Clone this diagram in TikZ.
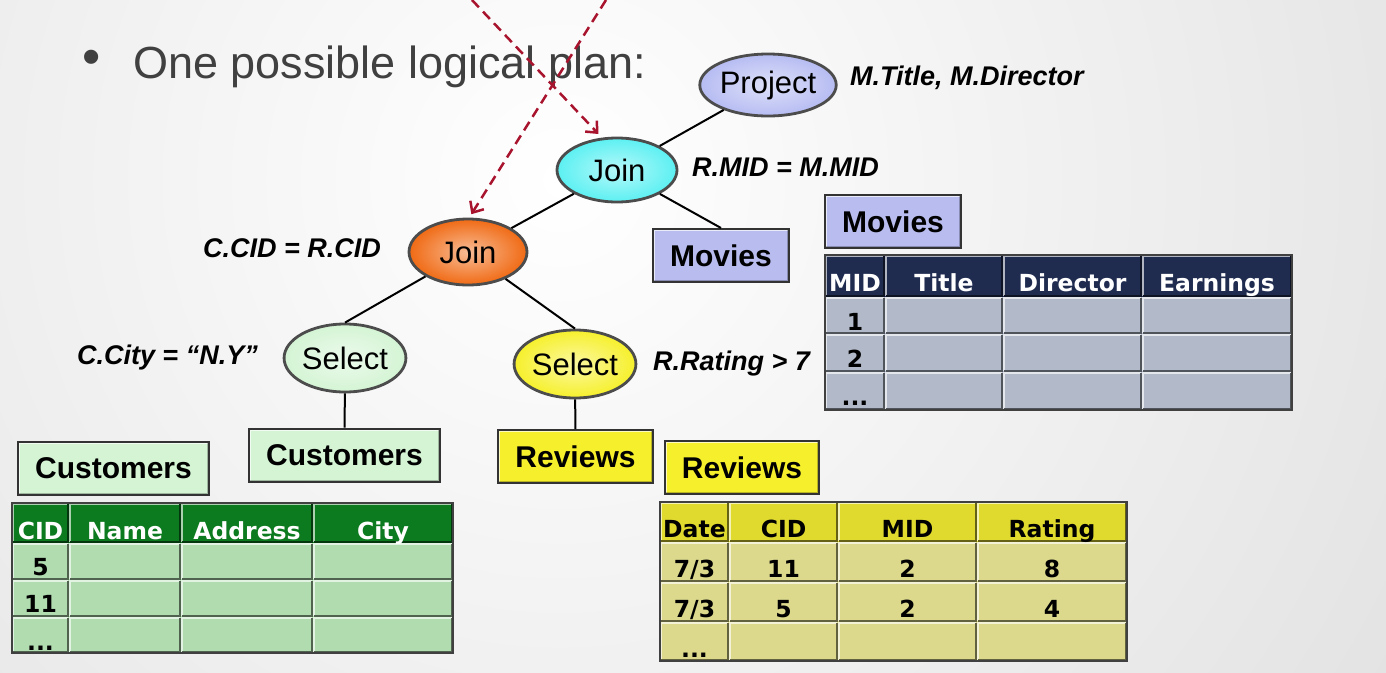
\documentclass[tikz,border=0pt]{standalone}
\usepackage{fontspec}
\setmainfont{Liberation Sans}
\newfontfamily\tabfont{DejaVu Sans}
\usetikzlibrary{shapes.geometric,arrows.meta}

\definecolor{slidegray}{HTML}{404040}
\definecolor{planred}{HTML}{A8142E}
\definecolor{projcol}{HTML}{B6BCF2}
\definecolor{joincyan}{HTML}{5CF0F2}
\definecolor{joinorange}{HTML}{F06A14}
\definecolor{custgreen}{HTML}{D4F4D4}
\definecolor{revyellow}{HTML}{F6F02C}
\definecolor{movblue}{HTML}{B8BCEE}
\definecolor{custhead}{HTML}{0C7A1E}
\definecolor{custcell}{HTML}{B0DCB0}
\definecolor{movhead}{HTML}{1F2C50}
\definecolor{movcell}{HTML}{B2BACA}
\definecolor{revhead}{HTML}{E0DA2E}
\definecolor{revcell}{HTML}{DCD98C}

\def\tdots{...}
\def\bevelcell(#1,#2)(#3,#4)[#5]{%
  \fill[#5] (#1,#2) rectangle (#3,#4);
  \draw[#5!35!white,line width=1.6pt] (#1+1,#4-1) -- (#1+1,#2+1) -- (#3-1,#2+1);
  \draw[#5!45!black,line width=1.6pt] (#1+1,#4-1) -- (#3-1,#4-1) -- (#3-1,#2+1);}

\tikzset{
  opnode/.style={ellipse, draw=black!70, line width=2.8pt, inner color=#1!45!white, outer color=#1,
    minimum width=120pt, minimum height=66pt, inner sep=0pt, font=\fontsize{31}{36}\selectfont},
  relbox/.style={rectangle, draw=black!80, line width=2pt, fill=#1, inner xsep=17pt, inner ysep=0pt,
    minimum height=53pt, font=\fontsize{30}{36}\selectfont\bfseries,
    path picture={
      \draw[white, line width=4pt, opacity=.7] (path picture bounding box.south west)
        -- (path picture bounding box.north west) -- (path picture bounding box.north east);
      \draw[black, line width=4pt, opacity=.25] (path picture bounding box.south west)
        -- (path picture bounding box.south east) -- (path picture bounding box.north east);}},
  predlabel/.style={inner sep=0pt, font=\fontsize{27}{32}\selectfont\bfseries\itshape},
  treeedge/.style={draw=black, line width=2pt},
  planarrow/.style={draw=planred, line width=2.5pt, dash pattern=on 10pt off 6pt,
    -{Straight Barb[length=9pt,width=16pt]}},
  celltext/.style={inner sep=0pt, anchor=base, font=\tabfont\fontsize{23.5}{28}\selectfont\bfseries},
}

\begin{document}
\begin{tikzpicture}[x=1pt,y=-1pt]
  %%%%% background %%%%%
  \useasboundingbox (0,0) rectangle (1386,672);
  \begin{scope}
    \clip (0,0) rectangle (1386,672);
    \shade[inner color=white, outer color=black!17] (560,180) circle (1500);
  \end{scope}

  \node[text=slidegray, inner sep=0pt, font=\fontsize{52}{60}\selectfont] (bullet) at (92,62) {•};
  \node[text=slidegray, inner sep=0pt, anchor=base west, font=\fontsize{45}{54}\selectfont] (title) at (133,78) {One possible logical plan:};

  %%%%% Customers table %%%%%
  \foreach \xa/\xb in {12/69,69/181,181/313,313/453}{
    \bevelcell(\xa,503)(\xb,543)[custhead]
    \foreach \ya/\yb in {543/580,580/617,617/653}
      {\bevelcell(\xa,\ya)(\xb,\yb)[custcell]}
  }
  \draw[black!75, line width=1.5pt] (12,503) rectangle (453,653);
  \foreach \cx/\lab [count=\i] in {40.5/CID,125/Name,247/Address,383/City}
    \node[celltext, text=white] (custh\i) at (\cx,539) {\lab};
  \foreach \cy/\lab [count=\i] in {575/5,612/11,650/\tdots}
    \node[celltext] (custv\i) at (40.5,\cy) {\lab};

  %%%%% Movies table %%%%%
  \foreach \xa/\xb in {825/885,885/1003,1003/1142,1142/1292}{
    \bevelcell(\xa,255)(\xb,297)[movhead]
    \foreach \ya/\yb in {297/334,334/372,372/410}
      {\bevelcell(\xa,\ya)(\xb,\yb)[movcell]}
  }
  \draw[black!75, line width=1.5pt] (825,255) rectangle (1292,410);
  \foreach \cx/\lab [count=\i] in {855/MID,944/Title,1072.5/Director,1217/Earnings}
    \node[celltext, text=white] (movh\i) at (\cx,291) {\lab};
  \foreach \cy/\lab [count=\i] in {330/1,367/2,405/\tdots}
    \node[celltext] (movv\i) at (855,\cy) {\lab};

  %%%%% Reviews table %%%%%
  \foreach \xa/\xb in {660/729,729/838,838/977,977/1127}{
    \bevelcell(\xa,502)(\xb,542)[revhead]
    \foreach \ya/\yb in {542/582,582/622,622/661}
      {\bevelcell(\xa,\ya)(\xb,\yb)[revcell]}
  }
  \draw[black!75, line width=1.5pt] (660,502) rectangle (1127,661);
  \foreach \cx/\lab/\va/\vb [count=\i] in {694.5/Date/{7/3}/{7/3},783.5/CID/11/5,907.5/MID/2/2,1052/Rating/8/4}{
    \node[celltext] (revh\i) at (\cx,537) {\lab};
    \node[celltext] (reva\i) at (\cx,577) {\va};
    \node[celltext] (revb\i) at (\cx,617) {\vb};
  }
  \node[celltext] (revdots) at (694.5,657) {\tdots};

  %%%%% relation boxes %%%%%
  \node[relbox=movblue] (movl) at (893,221.5) {Movies};
  \node[relbox=custgreen] (custl) at (113.5,468) {Customers};
  \node[relbox=revyellow] (revl) at (742,467.5) {Reviews};

  \node[relbox=movblue] (movt) at (721,255.5) {Movies};
  \node[relbox=custgreen] (custt) at (344.5,455) {Customers};
  \node[relbox=revyellow] (revt) at (575.5,456.5) {Reviews};

  %%%%% plan tree %%%%%
  \node[opnode=projcol, minimum width=119pt, minimum height=62pt] (proj) at (768,85) {Project};
  \node[opnode=joincyan, minimum height=64pt] (jtop) at (617,170) {Join};
  \node[opnode=joinorange, minimum width=118pt] (jorg) at (468,252) {Join};
  \node[opnode=custgreen, minimum height=68pt] (selc) at (345,358) {Select};
  \node[opnode=revyellow, minimum height=68pt] (selr) at (575,364) {Select};

  \draw[treeedge] (proj) -- (jtop);
  \draw[treeedge] (jtop) -- (jorg);
  \draw[treeedge] (jtop) -- (movt.north);
  \draw[treeedge] (jorg) -- (selc.north);
  \draw[treeedge] (jorg) -- (selr.north);
  \draw[treeedge] (selc) -- (custt);
  \draw[treeedge] (selr) -- (revt);

  \node[predlabel, anchor=west] (projlab) at (850,78) {M.Title, M.Director};
  \node[predlabel, anchor=west] (jtoplab) at (692,167) {R.MID = M.MID};
  \node[predlabel, anchor=east] (jorglab) at (381,248) {C.CID = R.CID};
  \node[predlabel, anchor=east] (selclab) at (258,358) {C.City = “N.Y”};
  \node[predlabel, anchor=west] (selrlab) at (653,364) {R.Rating > 7};

  %%%%% crossed arrows %%%%%
  \coordinate (xa) at (472,0);
  \coordinate (xb) at (606,0);
  \draw[planarrow, shorten >=5pt] (xa) -- (jtop.115);
  \draw[planarrow, shorten >=4pt] (xb) -- (jorg.88);
\end{tikzpicture}
\end{document}
